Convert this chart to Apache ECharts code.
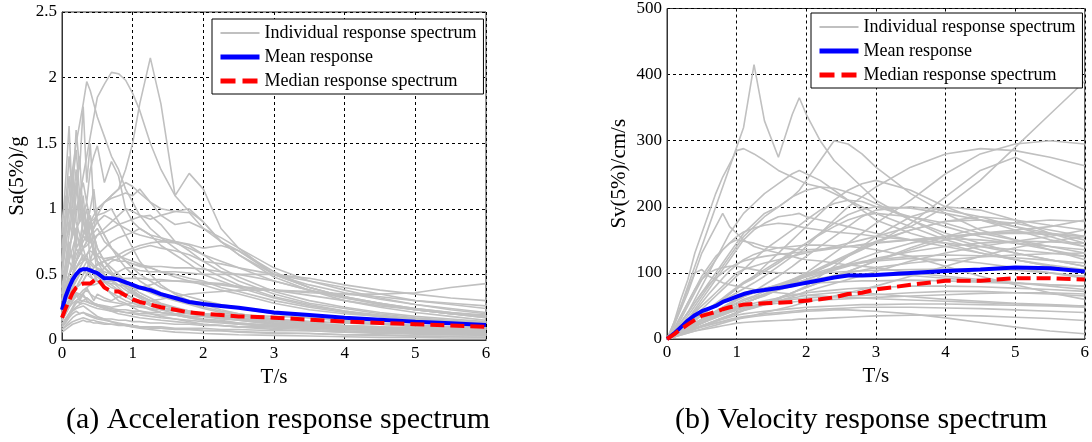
<!DOCTYPE html>
<html>
<head>
<meta charset="utf-8">
<script src="https://cdn.jsdelivr.net/npm/echarts@6/dist/echarts.min.js"></script>
<style>
html, body { margin: 0; padding: 0; background: #fff; }
#container { width: 1092px; height: 442px; }
</style>
</head>
<body>
<div id="container"></div>
<script>
// periods (s) for the acceleration spectra
var periodsA = [0, 0.05, 0.1, 0.15, 0.2, 0.25, 0.3, 0.35, 0.4, 0.45, 0.5, 0.6, 0.7, 0.8, 0.9, 1.0, 1.1, 1.25, 1.4, 1.6, 1.8, 2.0, 2.25, 2.5, 3.0, 3.5, 4.0, 4.5, 5.0, 5.5, 6.0];

// individual Sa curves (g)
var accRecords = [
    [0.4,0.5,0.6,0.55,0.7,0.65,0.8,0.75,0.9,0.85,1.0,1.05,1.1,1.15,1.3,1.5,1.8,2.15,1.8,1.1,1.27,1.15,0.85,0.7,0.5,0.42,0.36,0.31,0.27,0.24,0.21],
    [0.5,0.55,0.7,0.8,0.95,1.1,1.25,1.4,1.55,1.7,1.85,1.95,2.04,2.03,1.98,1.88,1.75,1.5,1.3,1.1,0.98,0.9,0.75,0.65,0.5,0.4,0.33,0.27,0.23,0.2,0.17],
    [0.6,0.9,1.1,1.3,1.5,1.65,1.8,1.97,1.9,1.8,1.7,1.55,1.4,1.3,1.15,1.05,0.95,0.85,0.78,0.7,0.62,0.55,0.48,0.42,0.33,0.27,0.22,0.18,0.15,0.13,0.11],
    [0.7,1.0,1.4,1.1,1.6,1.3,1.78,1.2,1.5,1.0,0.9,0.8,0.7,0.65,0.6,0.55,0.5,0.45,0.4,0.36,0.33,0.3,0.27,0.25,0.2,0.17,0.14,0.12,0.1,0.09,0.08],
    [0.5,0.7,0.9,0.8,1.0,1.1,1.2,1.05,1.3,1.4,1.48,1.2,1.36,1.25,1.0,0.9,0.85,0.8,0.72,0.65,0.58,0.5,0.45,0.4,0.32,0.26,0.22,0.19,0.16,0.14,0.12],
    [0.8,1.2,1.63,1.0,1.3,0.9,1.1,0.8,0.9,0.7,0.65,0.55,0.5,0.45,0.4,0.36,0.33,0.3,0.27,0.24,0.22,0.2,0.18,0.16,0.13,0.11,0.09,0.08,0.07,0.06,0.05],
    [0.3,0.35,0.45,0.5,0.6,0.7,0.75,0.8,0.85,0.9,0.95,1.05,1.1,1.15,1.2,1.17,1.12,1.05,1.0,0.98,0.97,0.85,0.75,0.68,0.5,0.4,0.33,0.28,0.24,0.21,0.18],
    [0.3,0.4,0.5,0.55,0.65,0.7,0.8,0.85,0.9,0.95,1.0,1.05,1.08,1.1,1.12,1.1,1.15,1.05,0.95,0.88,0.9,0.85,0.78,0.7,0.55,0.45,0.38,0.32,0.27,0.23,0.2],
    [0.2,0.25,0.3,0.35,0.4,0.42,0.45,0.5,0.55,0.5,0.55,0.52,0.5,0.52,0.55,0.55,0.53,0.52,0.52,0.52,0.51,0.5,0.5,0.5,0.5,0.47,0.42,0.38,0.35,0.32,0.3],
    [0.15,0.2,0.25,0.3,0.35,0.3,0.35,0.4,0.35,0.3,0.35,0.32,0.3,0.33,0.35,0.37,0.4,0.42,0.45,0.45,0.44,0.43,0.42,0.4,0.38,0.36,0.35,0.35,0.36,0.4,0.43],
    [0.1,0.13,0.17,0.2,0.22,0.2,0.21,0.19,0.18,0.17,0.16,0.15,0.14,0.13,0.12,0.11,0.1,0.1,0.09,0.085,0.08,0.075,0.07,0.065,0.055,0.05,0.04,0.035,0.03,0.025,0.02],
    [0.6,0.8,1.0,0.9,1.2,1.0,0.9,0.8,0.75,0.7,0.6,0.5,0.45,0.4,0.35,0.32,0.3,0.26,0.23,0.2,0.18,0.16,0.15,0.13,0.11,0.09,0.08,0.07,0.06,0.05,0.045],
    [0.35,0.5,0.7,0.8,0.85,0.9,0.95,1.05,0.9,0.8,0.7,0.6,0.55,0.5,0.45,0.4,0.36,0.32,0.28,0.25,0.22,0.2,0.18,0.16,0.13,0.11,0.09,0.08,0.07,0.06,0.05],
    [0.25,0.3,0.35,0.4,0.5,0.55,0.6,0.65,0.7,0.75,0.8,0.85,0.9,0.95,1.0,0.98,0.95,0.92,0.95,0.98,1.0,0.9,0.75,0.65,0.48,0.38,0.3,0.25,0.21,0.18,0.15],
    [0.2,0.25,0.3,0.35,0.4,0.45,0.5,0.55,0.6,0.62,0.65,0.7,0.75,0.78,0.8,0.82,0.85,0.8,0.78,0.75,0.73,0.7,0.72,0.68,0.52,0.4,0.33,0.28,0.23,0.2,0.17],
    [0.25,0.35,0.45,0.5,0.55,0.6,0.65,0.6,0.55,0.5,0.48,0.44,0.4,0.38,0.35,0.32,0.3,0.27,0.25,0.23,0.21,0.19,0.17,0.16,0.13,0.11,0.1,0.09,0.08,0.07,0.06],
    [0.4,0.6,0.8,1.0,0.7,1.1,0.8,0.9,0.6,0.7,0.5,0.45,0.42,0.38,0.33,0.3,0.27,0.24,0.21,0.19,0.17,0.15,0.14,0.12,0.1,0.09,0.08,0.07,0.06,0.05,0.045],
    [0.3,0.4,0.5,0.55,0.6,0.65,0.7,0.75,0.8,0.82,0.85,0.75,0.7,0.65,0.6,0.58,0.56,0.55,0.52,0.5,0.47,0.45,0.4,0.37,0.3,0.25,0.21,0.18,0.16,0.14,0.12],
    [0.3,0.35,0.45,0.5,0.6,0.65,0.7,0.75,0.8,0.85,0.9,0.95,0.92,0.88,0.85,0.82,0.8,0.78,0.76,0.75,0.72,0.65,0.55,0.48,0.37,0.3,0.25,0.21,0.18,0.16,0.14],
    [0.18,0.22,0.28,0.32,0.35,0.33,0.36,0.38,0.35,0.33,0.32,0.3,0.29,0.28,0.27,0.26,0.25,0.24,0.23,0.22,0.21,0.2,0.19,0.18,0.16,0.14,0.13,0.12,0.11,0.1,0.09],
    [0.12,0.15,0.2,0.25,0.3,0.28,0.3,0.32,0.3,0.28,0.27,0.26,0.25,0.26,0.27,0.28,0.29,0.3,0.31,0.33,0.35,0.36,0.37,0.38,0.38,0.37,0.35,0.33,0.3,0.28,0.26],
    [0.08,0.1,0.12,0.14,0.15,0.16,0.17,0.16,0.15,0.15,0.14,0.13,0.12,0.12,0.11,0.1,0.1,0.09,0.09,0.08,0.08,0.07,0.07,0.06,0.05,0.05,0.04,0.04,0.03,0.03,0.03],
    [0.9,1.1,0.8,1.3,0.9,0.8,0.7,0.6,0.55,0.5,0.45,0.4,0.35,0.3,0.28,0.25,0.22,0.2,0.18,0.16,0.14,0.12,0.11,0.1,0.08,0.07,0.06,0.05,0.045,0.04,0.035],
    [0.2,0.25,0.3,0.35,0.4,0.45,0.5,0.55,0.5,0.45,0.5,0.55,0.6,0.62,0.65,0.68,0.7,0.72,0.7,0.68,0.65,0.6,0.58,0.55,0.5,0.45,0.4,0.35,0.3,0.27,0.24],
    [0.3,0.4,0.5,0.6,0.7,0.75,0.8,0.85,0.9,0.92,0.95,0.97,1.0,0.9,0.8,0.7,0.6,0.5,0.42,0.35,0.3,0.27,0.23,0.2,0.16,0.13,0.11,0.1,0.09,0.08,0.07],
    [0.15,0.2,0.25,0.28,0.3,0.32,0.35,0.3,0.28,0.27,0.26,0.24,0.22,0.2,0.19,0.18,0.17,0.16,0.15,0.14,0.13,0.12,0.11,0.1,0.09,0.08,0.07,0.06,0.06,0.05,0.05],
    [0.5,0.8,0.6,0.9,0.7,0.75,0.6,0.65,0.55,0.5,0.45,0.4,0.36,0.33,0.3,0.28,0.26,0.23,0.21,0.19,0.17,0.15,0.14,0.13,0.11,0.1,0.09,0.08,0.07,0.06,0.06],
    [0.25,0.35,0.45,0.5,0.55,0.6,0.62,0.65,0.68,0.66,0.64,0.62,0.63,0.64,0.62,0.6,0.58,0.55,0.52,0.48,0.45,0.42,0.38,0.35,0.28,0.23,0.2,0.18,0.16,0.14,0.13],
    [0.06,0.08,0.1,0.12,0.13,0.14,0.15,0.14,0.14,0.13,0.13,0.12,0.12,0.11,0.11,0.11,0.1,0.1,0.1,0.09,0.09,0.09,0.08,0.08,0.07,0.07,0.06,0.06,0.05,0.05,0.05],
    [0.12,0.16,0.2,0.24,0.28,0.3,0.3,0.29,0.28,0.27,0.26,0.25,0.24,0.23,0.23,0.22,0.22,0.21,0.21,0.2,0.2,0.2,0.19,0.19,0.18,0.17,0.16,0.15,0.14,0.13,0.12],
    [0.5,0.8,1.0,1.2,1.45,1.1,1.0,0.9,0.95,0.8,0.7,0.6,0.52,0.46,0.42,0.38,0.34,0.3,0.27,0.24,0.21,0.19,0.17,0.15,0.12,0.1,0.09,0.08,0.07,0.06,0.05],
    [0.35,0.55,0.75,0.6,0.85,0.7,0.95,0.75,0.8,0.65,0.6,0.55,0.5,0.45,0.4,0.37,0.34,0.3,0.27,0.24,0.22,0.2,0.18,0.17,0.14,0.12,0.1,0.09,0.08,0.07,0.06],
    [0.15,0.2,0.25,0.3,0.33,0.35,0.38,0.4,0.42,0.42,0.43,0.44,0.45,0.46,0.47,0.47,0.47,0.46,0.46,0.45,0.45,0.44,0.43,0.41,0.38,0.34,0.3,0.26,0.23,0.2,0.18],
    [0.15,0.22,0.3,0.34,0.36,0.35,0.33,0.32,0.3,0.28,0.27,0.25,0.23,0.22,0.21,0.2,0.19,0.18,0.17,0.16,0.15,0.14,0.13,0.12,0.11,0.1,0.09,0.08,0.07,0.07,0.06],
    [0.2,0.25,0.3,0.35,0.4,0.42,0.45,0.5,0.52,0.55,0.58,0.6,0.62,0.65,0.68,0.7,0.72,0.74,0.75,0.74,0.7,0.65,0.6,0.55,0.45,0.38,0.32,0.27,0.23,0.2,0.18],
    [0.25,0.35,0.45,0.5,0.55,0.58,0.6,0.62,0.6,0.57,0.54,0.5,0.46,0.42,0.38,0.35,0.32,0.28,0.25,0.22,0.2,0.18,0.16,0.15,0.12,0.1,0.09,0.08,0.07,0.06,0.05],
    [0.1,0.14,0.18,0.22,0.24,0.25,0.26,0.24,0.22,0.2,0.18,0.16,0.14,0.12,0.11,0.1,0.09,0.08,0.07,0.06,0.055,0.05,0.045,0.04,0.035,0.03,0.025,0.02,0.02,0.015,0.015],
    [0.2,0.28,0.35,0.4,0.45,0.5,0.55,0.5,0.48,0.46,0.45,0.44,0.43,0.42,0.41,0.4,0.39,0.37,0.35,0.32,0.3,0.28,0.26,0.24,0.2,0.17,0.15,0.13,0.11,0.1,0.09],
    [0.6,0.9,1.25,0.85,1.1,1.4,0.9,1.0,0.75,0.8,0.6,0.55,0.5,0.48,0.45,0.42,0.4,0.36,0.33,0.3,0.27,0.24,0.21,0.19,0.15,0.12,0.1,0.09,0.08,0.07,0.06],
    [0.2,0.3,0.35,0.4,0.45,0.5,0.55,0.6,0.58,0.55,0.57,0.6,0.62,0.6,0.6,0.58,0.57,0.56,0.56,0.55,0.55,0.54,0.52,0.5,0.45,0.38,0.32,0.28,0.24,0.21,0.19],
    [0.12,0.16,0.2,0.23,0.25,0.27,0.28,0.27,0.26,0.25,0.24,0.23,0.22,0.22,0.21,0.21,0.2,0.2,0.19,0.19,0.18,0.18,0.17,0.16,0.15,0.14,0.13,0.12,0.11,0.1,0.1],
    [0.3,0.45,0.6,0.7,0.8,0.75,0.9,0.85,1.0,1.15,0.9,0.8,0.7,0.62,0.55,0.5,0.45,0.4,0.36,0.32,0.28,0.25,0.22,0.2,0.16,0.13,0.11,0.1,0.09,0.08,0.07],
    [0.08,0.11,0.14,0.17,0.19,0.2,0.21,0.2,0.19,0.18,0.17,0.16,0.16,0.15,0.15,0.14,0.14,0.13,0.13,0.12,0.12,0.11,0.11,0.1,0.1,0.09,0.09,0.08,0.08,0.07,0.07],
    [0.3,0.4,0.5,0.55,0.6,0.65,0.7,0.72,0.75,0.78,0.8,0.82,0.85,0.88,0.9,0.92,0.94,0.95,0.88,0.75,0.68,0.6,0.52,0.45,0.35,0.28,0.24,0.2,0.17,0.15,0.13]
];
var accMean = [0.23,0.33,0.4,0.46,0.5,0.53,0.54,0.54,0.53,0.52,0.51,0.47,0.47,0.46,0.44,0.42,0.4,0.38,0.35,0.32,0.29,0.275,0.26,0.245,0.21,0.19,0.17,0.155,0.14,0.128,0.115];
var accMedian = [0.17,0.24,0.3,0.36,0.4,0.42,0.43,0.43,0.43,0.45,0.47,0.4,0.37,0.37,0.34,0.31,0.29,0.27,0.25,0.23,0.21,0.2,0.19,0.18,0.17,0.155,0.14,0.13,0.12,0.11,0.1];

// periods (s) for the velocity spectra
var periodsV = [0, 0.1, 0.2, 0.3, 0.4, 0.5, 0.6, 0.7, 0.8, 0.9, 1.0, 1.1, 1.25, 1.4, 1.6, 1.8, 1.9, 2.0, 2.2, 2.4, 2.6, 2.8, 3.0, 3.5, 4.0, 4.5, 5.0, 5.5, 6.0];

// individual Sv curves (cm/s)
var velRecords = [
    [0,20,50,80,110,140,170,200,230,260,290,320,415,330,275,340,365,340,300,270,250,230,210,180,155,140,130,120,110],
    [0,25,60,90,130,160,190,220,245,265,285,288,280,270,255,245,240,235,230,220,210,200,190,170,150,135,120,110,100],
    [0,10,25,40,55,70,85,100,115,130,145,160,175,190,200,215,225,240,270,300,295,280,260,220,190,165,150,135,120],
    [0,8,20,30,40,50,60,70,80,90,100,105,110,115,120,125,128,130,135,140,145,150,155,170,200,240,290,340,390],
    [0,5,12,18,25,30,35,40,45,50,55,60,65,72,80,90,95,100,115,130,145,160,175,210,250,280,295,300,295],
    [0,6,14,22,30,38,45,52,58,64,70,76,85,95,110,125,130,140,160,180,200,215,230,260,280,288,285,275,262],
    [0,5,10,15,20,25,30,35,40,45,50,55,60,65,75,85,90,95,105,115,125,135,145,175,215,255,275,250,225],
    [0,20,45,70,100,130,150,170,190,170,160,150,140,135,130,125,122,120,118,115,112,110,108,100,95,90,85,80,75],
    [0,10,25,40,60,80,100,120,140,160,175,190,205,220,235,250,255,250,240,225,210,195,180,160,145,130,120,110,100],
    [0,5,12,20,28,36,44,52,60,68,76,84,95,110,130,150,160,170,190,210,225,235,240,225,200,180,165,150,140],
    [0,5,10,16,22,28,34,40,46,52,58,64,72,82,95,110,118,125,140,155,170,185,195,200,195,185,170,155,140],
    [0,4,9,14,19,24,29,34,39,44,49,54,60,68,78,88,93,98,108,118,128,138,148,165,178,185,180,172,165],
    [0,3,8,12,16,20,24,28,32,36,40,44,48,54,62,70,74,78,86,94,102,110,118,135,150,160,165,170,180],
    [0,8,20,35,50,65,80,95,110,125,140,155,170,185,200,215,220,225,230,228,222,215,205,180,160,145,130,120,110],
    [0,6,15,25,35,45,55,65,75,85,95,105,120,135,150,165,172,180,195,205,210,208,200,185,170,155,145,135,125],
    [0,4,9,14,19,24,29,34,39,44,49,54,60,67,75,82,86,90,97,104,110,116,122,132,140,145,148,147,145],
    [0,4,8,12,16,19,22,24,26,28,30,32,34,36,38,40,41,42,43,44,44,43,42,38,32,25,18,12,8],
    [0,5,10,15,20,24,28,32,36,40,43,46,50,54,58,62,64,66,68,70,71,70,68,64,60,57,54,52,50],
    [0,6,12,18,24,30,36,42,48,54,60,65,70,75,80,85,87,89,92,95,97,98,98,96,92,88,85,82,80],
    [0,25,50,75,100,105,95,90,85,82,80,78,75,72,70,68,67,66,65,64,63,62,61,59,57,55,53,51,50],
    [0,15,35,55,75,95,110,125,135,145,150,148,145,140,138,136,135,135,136,138,140,142,145,150,155,158,160,158,155],
    [0,6,14,22,30,38,46,54,62,70,78,86,95,105,118,132,138,145,158,170,180,187,190,185,175,160,150,140,130],
    [0,5,11,17,23,28,33,38,43,48,53,58,63,68,74,80,83,86,91,96,100,104,108,115,120,124,127,129,130],
    [0,3,6,9,12,14,16,18,20,22,24,25,26,27,28,29,30,30,31,32,33,34,35,36,36,35,33,31,28],
    [0,4,9,14,19,24,29,33,37,41,45,48,51,54,57,60,61,62,63,64,65,66,67,70,72,72,70,68,65],
    [0,4,8,12,16,20,24,28,32,36,40,44,48,52,60,70,75,80,95,110,125,140,155,185,200,195,180,160,145],
    [0,15,35,55,75,90,100,105,108,110,110,108,105,102,100,100,100,100,100,101,102,103,104,105,106,106,104,100,95],
    [0,4,9,14,19,24,29,34,39,44,49,54,60,66,74,82,86,90,98,106,114,122,130,145,155,160,162,160,155],
    [0,6,12,18,24,30,36,42,48,54,60,65,70,76,82,88,91,94,100,106,111,115,118,122,120,115,108,100,92],
    [0,4,8,12,16,20,24,27,30,33,36,38,40,42,44,46,47,48,49,50,51,52,52,53,53,52,51,50,48],
    [0,3,7,11,15,19,23,27,31,35,39,43,48,54,62,70,74,78,86,94,102,110,118,138,155,168,176,180,178],
    [0,10,25,40,55,70,82,92,100,108,114,118,122,125,128,130,131,132,134,137,140,143,146,150,152,150,145,140,135],
    [0,12,30,50,70,90,105,120,135,145,155,162,168,172,175,173,170,168,165,162,160,158,155,150,145,140,135,130,125],
    [0,5,10,15,20,25,30,34,38,42,46,50,54,58,62,66,68,70,72,74,76,77,78,80,80,79,77,75,72],
    [0,8,18,30,45,60,75,90,105,120,135,150,165,175,185,188,190,185,180,175,170,165,160,150,140,130,120,112,105],
    [0,5,12,20,28,36,44,52,60,68,76,84,92,102,115,130,138,145,160,175,188,196,200,198,190,180,170,160,150],
    [0,8,18,30,42,55,68,80,92,103,112,120,128,133,138,140,141,142,142,141,140,138,135,125,110,95,82,70,60],
    [0,3,6,9,12,15,18,21,24,27,30,33,36,40,45,50,53,56,60,65,70,75,80,95,110,125,138,148,155],
    [0,5,11,17,23,29,35,41,47,53,59,64,70,76,83,90,93,96,102,108,113,117,120,125,127,126,123,119,115],
    [0,4,8,12,15,18,21,24,27,30,32,34,36,38,40,42,43,44,45,46,47,48,48,48,47,46,44,42,40],
    [0,4,9,14,19,24,29,34,39,44,49,54,60,67,76,86,91,96,106,116,126,136,146,165,178,180,175,165,155],
    [0,8,16,24,32,40,46,52,57,62,66,70,74,77,80,82,83,84,85,86,87,88,88,89,88,86,84,82,80],
    [0,3,7,11,15,19,23,27,31,35,39,43,47,52,58,64,68,72,78,84,90,96,102,118,130,140,148,155,165],
    [0,6,12,18,24,28,32,36,40,43,46,48,50,52,54,56,57,58,59,60,61,62,63,65,67,69,70,70,68]
];
var velMean = [0,8,18,28,36,42,46,50,56,60,64,68,72,74,77,81,83,85,89,93,96,96,97,100,103,105,108,107,102];
var velMedian = [0,7,15,22,29,35,38,41,45,48,50,52,53,54,55,56,57,58,60,63,68,70,75,82,88,88,92,92,90];

var nameInd = 'Individual response spectrum';
var nameMean = 'Mean response';
var nameMed = 'Median response spectrum';
var serif = 'Liberation Serif';

function pairs(xs, ys) {
    var out = [];
    for (var i = 0; i < xs.length; i++) out.push([xs[i], ys[i]]);
    return out;
}

function buildSeries(idx, xs, records, mean, median) {
    var list = [];
    records.forEach(function (r) {
        list.push({
            name: nameInd, type: 'line', xAxisIndex: idx, yAxisIndex: idx,
            symbol: 'none', silent: true,
            lineStyle: { color: '#c0c0c0', width: 1.6 },
            itemStyle: { color: '#c0c0c0' },
            data: pairs(xs, r)
        });
    });
    list.push({
        name: nameMean, type: 'line', xAxisIndex: idx, yAxisIndex: idx,
        symbol: 'none',
        lineStyle: { color: '#0000ff', width: 4 },
        itemStyle: { color: '#0000ff' },
        data: pairs(xs, mean)
    });
    list.push({
        name: nameMed, type: 'line', xAxisIndex: idx, yAxisIndex: idx,
        symbol: 'none',
        lineStyle: { color: '#ff0000', width: 4, type: [14, 6] },
        itemStyle: { color: '#ff0000' },
        data: pairs(xs, median)
    });
    return list;
}

function makeLegend(left, top) {
    return {
        left: left, top: top, orient: 'vertical',
        selectedMode: false,
        backgroundColor: '#fff', borderColor: '#000', borderWidth: 1, borderRadius: 0,
        padding: [5, 7, 4, 6],
        itemWidth: 39, itemHeight: 18, itemGap: 6,
        textStyle: { fontFamily: serif, fontSize: 18, color: '#000' },
        data: [
            { name: nameInd, itemStyle: { opacity: 0 }, lineStyle: { width: 2, color: '#c0c0c0' } },
            { name: nameMean, itemStyle: { opacity: 0 }, lineStyle: { width: 5, color: '#0000ff' } },
            { name: nameMed, itemStyle: { opacity: 0 }, lineStyle: { width: 5, color: '#ff0000', type: [15, 7] } }
        ]
    };
}

function xAx(idx) {
    return {
        type: 'value', gridIndex: idx, min: 0, max: 6, interval: 1,
        name: 'T/s', nameLocation: 'middle', nameGap: 24,
        nameTextStyle: { fontFamily: serif, fontSize: 21, color: '#000' },
        axisLine: { show: true, lineStyle: { color: '#333', width: 1 } },
        axisTick: { show: false },
        axisLabel: { fontFamily: serif, fontSize: 17, color: '#000', margin: 5 },
        splitLine: { show: true, lineStyle: { color: '#000', width: 1, type: [3, 3] } }
    };
}

function yAx(idx, max, interval, name, gap) {
    return {
        type: 'value', gridIndex: idx, min: 0, max: max, interval: interval,
        name: name, nameLocation: 'middle', nameGap: gap,
        nameTextStyle: { fontFamily: serif, fontSize: 21, color: '#000' },
        axisLine: { show: true, lineStyle: { color: '#333', width: 1 } },
        axisTick: { show: false },
        axisLabel: { fontFamily: serif, fontSize: 17, color: '#000', margin: 5 },
        splitLine: { show: true, lineStyle: { color: '#000', width: 1, type: [3, 3] } }
    };
}

var dom = document.getElementById('container');
var myChart = echarts.init(dom);
var option = {
    backgroundColor: '#fff',
    animation: false,
    title: [
        { text: '(a) Acceleration response spectrum', left: 66, top: 405, padding: 0,
          textStyle: { fontFamily: serif, fontSize: 30, fontWeight: 'normal', color: '#000' } },
        { text: '(b) Velocity response spectrum', left: 675, top: 405, padding: 0,
          textStyle: { fontFamily: serif, fontSize: 30, fontWeight: 'normal', color: '#000' } }
    ],
    legend: [makeLegend(212, 19), makeLegend(811, 13)],
    grid: [
        { left: 62, top: 12, width: 424, height: 328, show: true, borderColor: '#333', borderWidth: 1 },
        { left: 667, top: 8, width: 421, height: 331, show: true, borderColor: '#333', borderWidth: 1 }
    ],
    xAxis: [xAx(0), xAx(1)],
    yAxis: [yAx(0, 2.5, 0.5, 'Sa(5%)/g', 34), yAx(1, 500, 100, 'Sv(5%)/cm/s', 37)],
    series: buildSeries(0, periodsA, accRecords, accMean, accMedian)
        .concat(buildSeries(1, periodsV, velRecords, velMean, velMedian))
};

if (option && typeof option === 'object') {
    myChart.setOption(option, true);
}
</script>
</body>
</html>
